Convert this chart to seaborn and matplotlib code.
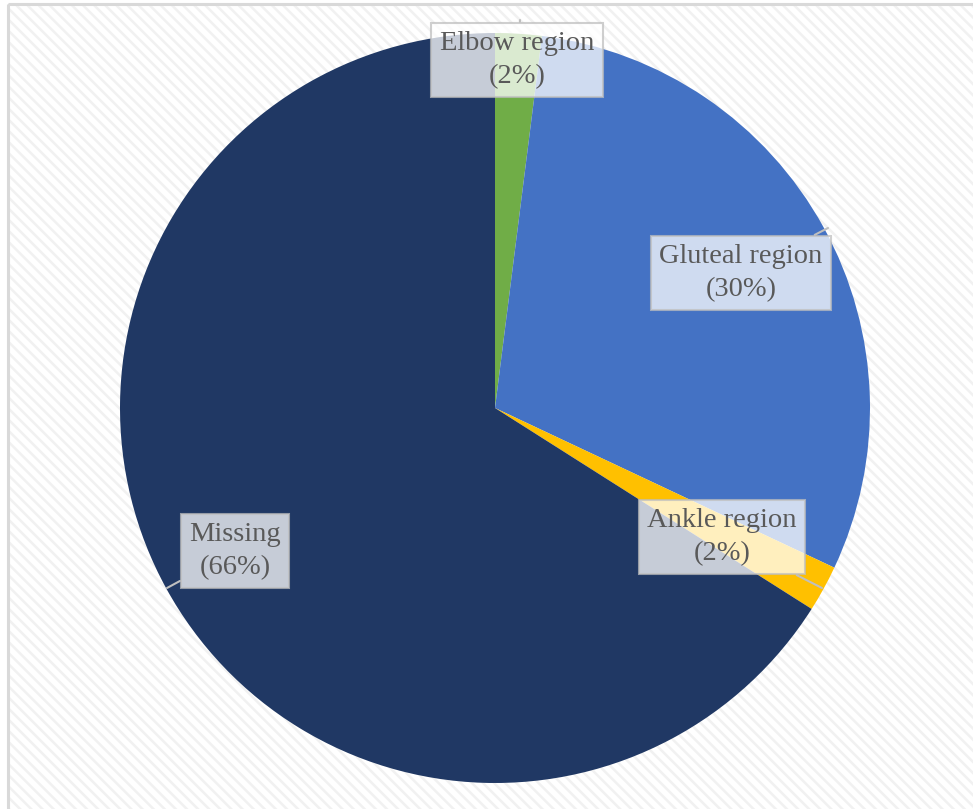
import matplotlib
matplotlib.use("Agg")
import matplotlib.pyplot as plt
from matplotlib.patches import Rectangle
import seaborn as sns

categories = ["Elbow region", "Gluteal region", "Ankle region", "Missing"]
values = [2, 30, 2, 66]
colors = ["#70ad47", "#4472c4", "#ffc000", "#203864"]

sns.set_style("white")
plt.rcParams["font.family"] = ["Liberation Serif", "DejaVu Serif"]
plt.rcParams["hatch.color"] = "#f1f1f1"
plt.rcParams["hatch.linewidth"] = 1.8

W, H = 973, 809
fig = plt.figure(figsize=(W / 100, H / 100), dpi=100)
fig.patch.set_facecolor("white")

# background axes: hatched area and frame
bgax = fig.add_axes([0, 0, 1, 1], zorder=0)
bgax.set_xlim(0, W)
bgax.set_ylim(H, 0)
bgax.axis("off")
bgax.add_patch(Rectangle((8, 4), W, H, facecolor="white", edgecolor="#f1f1f1",
                         hatch="\\\\\\", lw=0))
bgax.add_patch(Rectangle((8, 4), W + 10, H + 10, facecolor="none",
                         edgecolor="#d9d9d9", lw=2.2))

cx, cy, r = 495, 408, 375
ax = fig.add_axes([(cx - r) / W, (H - cy - r) / H, 2 * r / W, 2 * r / H], zorder=1)
ax.set_facecolor("none")
wedges, _ = ax.pie(values, colors=colors, startangle=90, counterclock=False,
                   radius=1.0, wedgeprops=dict(linewidth=0))
ax.set_xlim(-1, 1)
ax.set_ylim(-1, 1)
ax.set_aspect("equal")
ax.axis("off")

def px2data(x, y):
    return ((x - cx) / r, (cy - y) / r)

label_pos = [(517, 60), (741, 273), (722, 537), (235, 551)]
anchor_pos = [(520, 20), (828, 228), (822, 588), (167, 588)]
for cat, val, lp, ap in zip(categories, values, label_pos, anchor_pos):
    ax.annotate(f"{cat}\n({val}%)", xy=px2data(*ap), xytext=px2data(*lp),
                ha="center", va="center", fontsize=20.5, color="#595959",
                linespacing=1.4,
                bbox=dict(boxstyle="square,pad=0.3", facecolor="white",
                          alpha=0.75, edgecolor="#bfbfbf", lw=1.5),
                arrowprops=dict(arrowstyle="-", color="#bfbfbf", lw=1.5,
                                shrinkA=0, shrinkB=0),
                annotation_clip=False)

fig.savefig("out.png", dpi=100)
